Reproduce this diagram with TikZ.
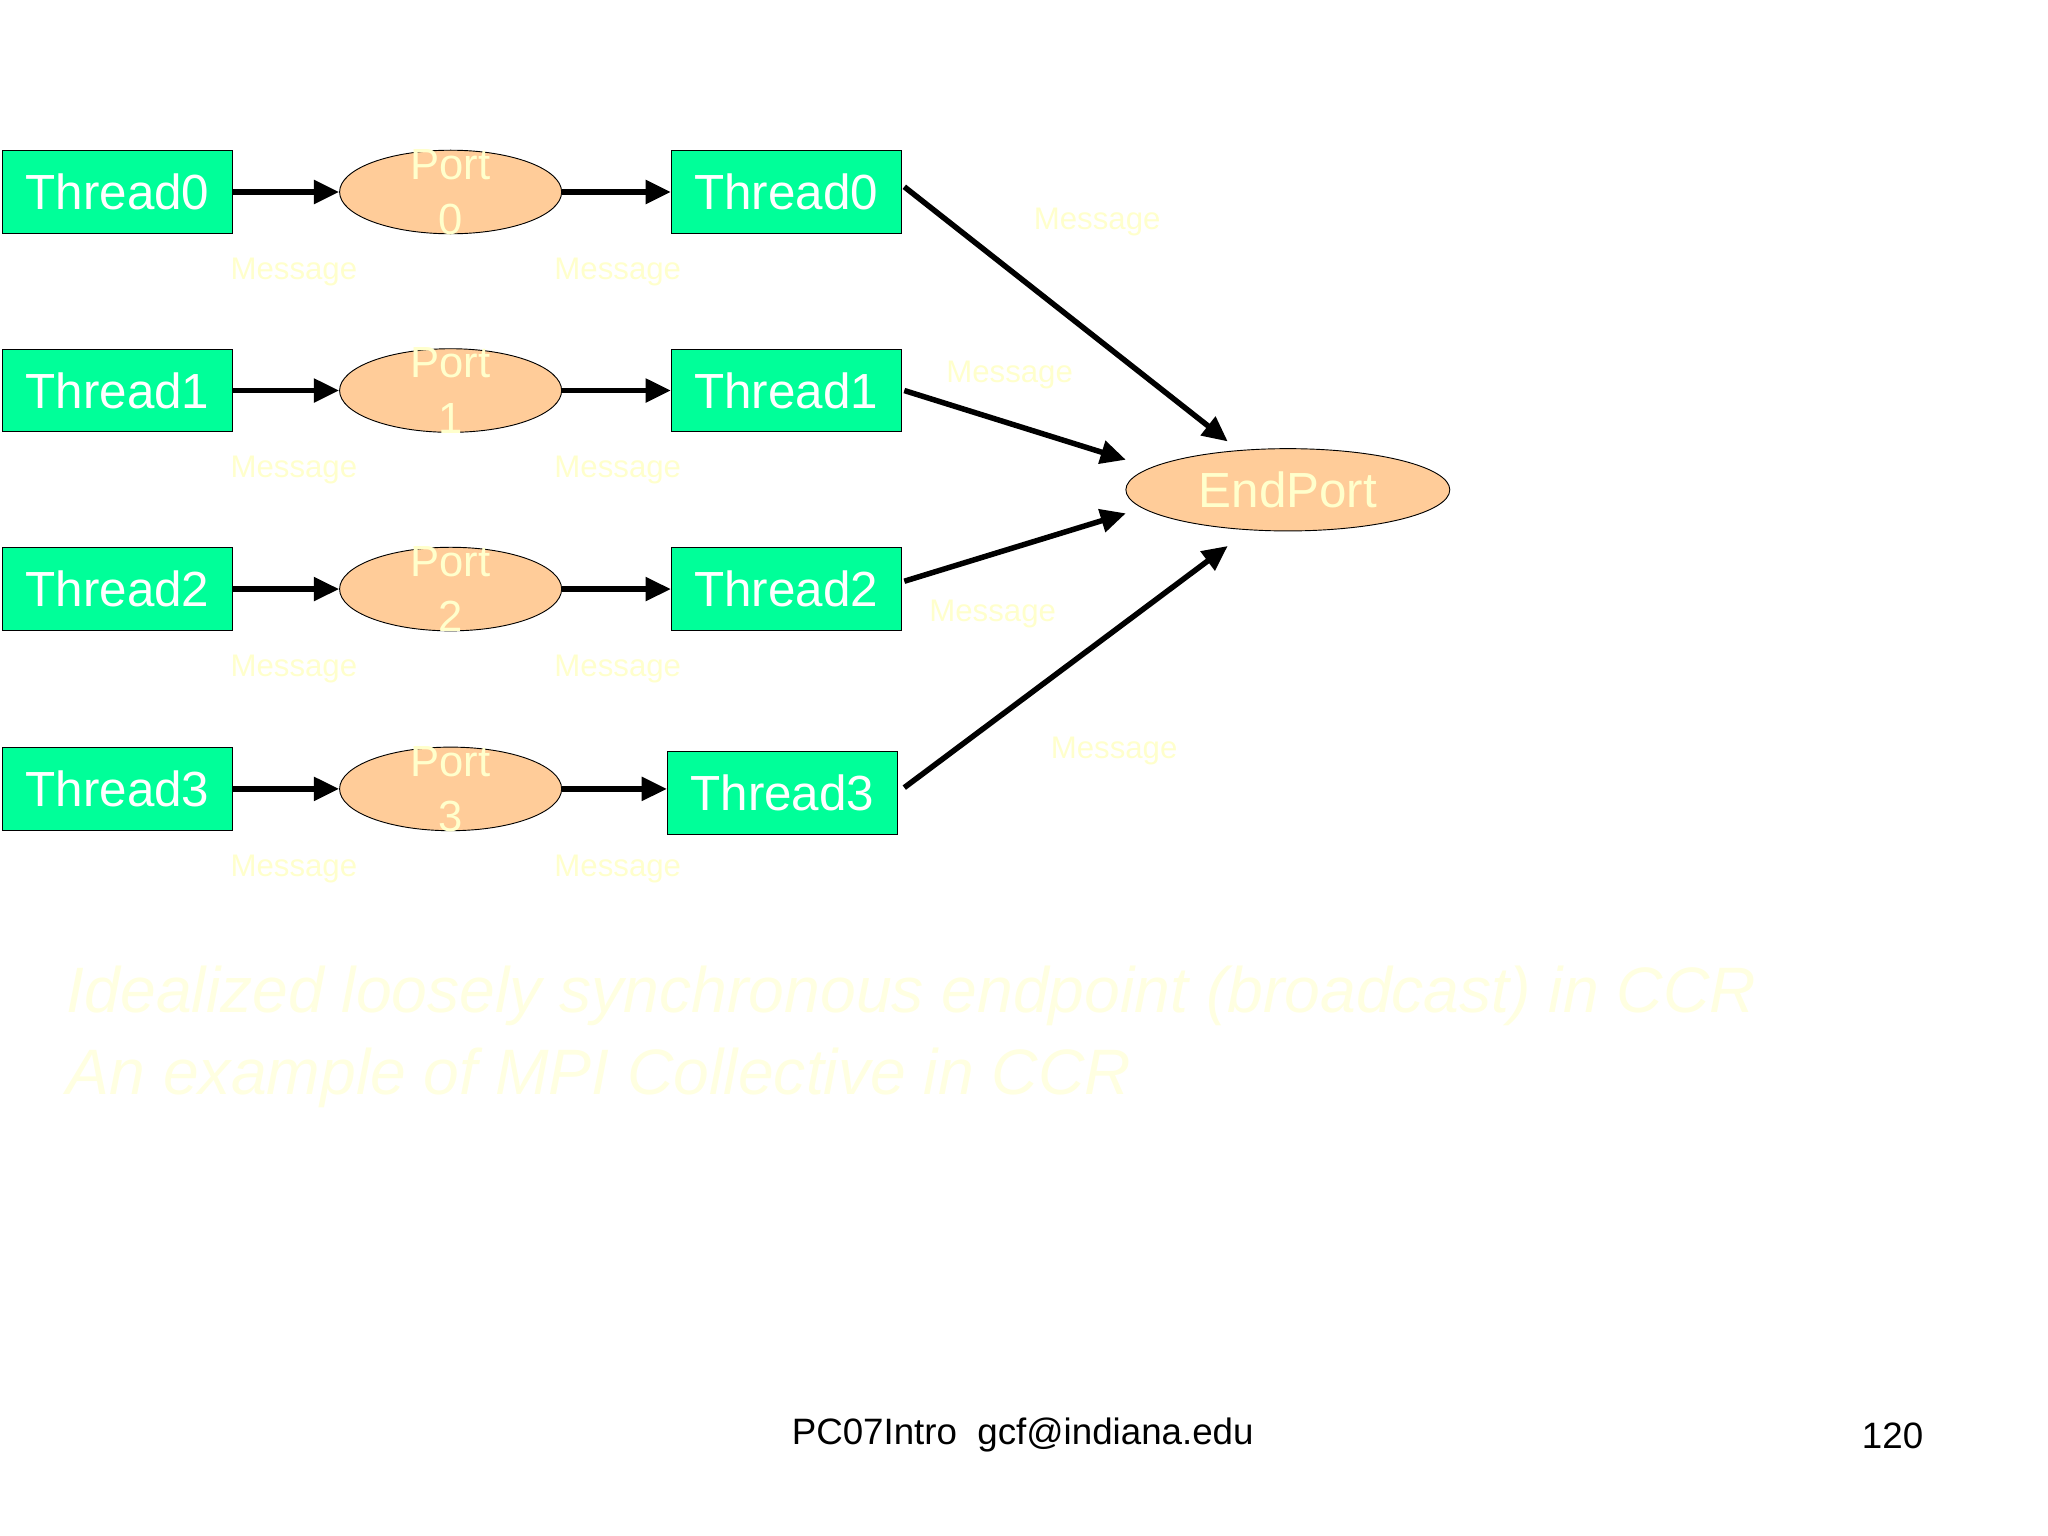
\documentclass[tikz,border=0pt]{standalone}
\usepackage{fontspec}
\setmainfont{Liberation Sans}
\usetikzlibrary{shapes.geometric,arrows.meta}
\definecolor{tgreen}{RGB}{0,255,153}
\definecolor{porange}{RGB}{255,204,153}
\definecolor{lyel}{RGB}{255,255,204}
\definecolor{fyel}{RGB}{255,255,225}
\begin{document}
\begin{tikzpicture}[x=0.02cm,y=-0.02cm,
  thr/.style={draw,fill=tgreen,minimum width=176*0.02cm,minimum height=63*0.02cm,inner sep=0pt,text=white,font=\fontsize{21.5}{24}\selectfont},
  prt/.style={ellipse,draw,fill=porange,minimum width=170*0.02cm,minimum height=64*0.02cm,inner sep=0pt},
  ptxt/.style={text=lyel,font=\fontsize{19}{24}\selectfont,align=center},
  msg/.style={text=lyel,font=\fontsize{13.6}{15}\selectfont},
  arr/.style={line width=2.4pt,-{Triangle[length=11pt,width=10pt]}}]
\useasboundingbox (0,0) rectangle (1568,1176);
\foreach \i/\y in {0/147,1/299,2/451,3/604}{
  \node[thr] (L\i) at (90,\y) {Thread\i};
  \node[prt] (P\i) at (345,\y) {};
  \node[ptxt] at (345,\y) {Port\\\i};
  \draw[arr] (L\i.east) -- (P\i.west);
  \node[msg] at (225,\y+61) {Message};
  \node[msg] at (473,\y+61) {Message};
}
\node[thr] (R0) at (602,147) {Thread0};
\node[thr] (R1) at (602,299) {Thread1};
\node[thr] (R2) at (602,451) {Thread2};
\node[thr] (R3) at (599,607) {Thread3};
\foreach \i in {0,1,2}{\draw[arr] (P\i.east) -- (R\i.west);}
\draw[arr] (P3.east) -- (R3.west |- P3.east);
\node[prt,minimum width=248*0.02cm,minimum height=63*0.02cm,text=lyel,font=\fontsize{21.5}{24}\selectfont] (E) at (986,375) {EndPort};
\draw[arr] (R0.east) ++(2,-4) -- (940,338);
\draw[arr] (R1.east) ++(2,0) -- (862,352);
\draw[arr] (R2.east) ++(2,-6) -- (862,393);
\draw[arr] (R3.east) ++(5,-4) -- (940,418);
\node[msg] at (840,170) {Message};
\node[msg] at (773,287) {Message};
\node[msg] at (760,470) {Message};
\node[msg] at (853,575) {Message};
\node[anchor=west,text=fyel,font=\fontsize{28}{36}\selectfont\itshape,align=left] (cap) at (45,794) {Idealized loosely synchronous endpoint (broadcast) in CCR\\An example of MPI Collective in CCR};
\node[font=\fontsize{16}{18}\selectfont] (ft) at (783,1099) {PC07Intro\ \ gcf@indiana.edu};
\node[font=\fontsize{16}{18}\selectfont] (pg) at (1449,1099) {120};
\end{tikzpicture}
\end{document}
